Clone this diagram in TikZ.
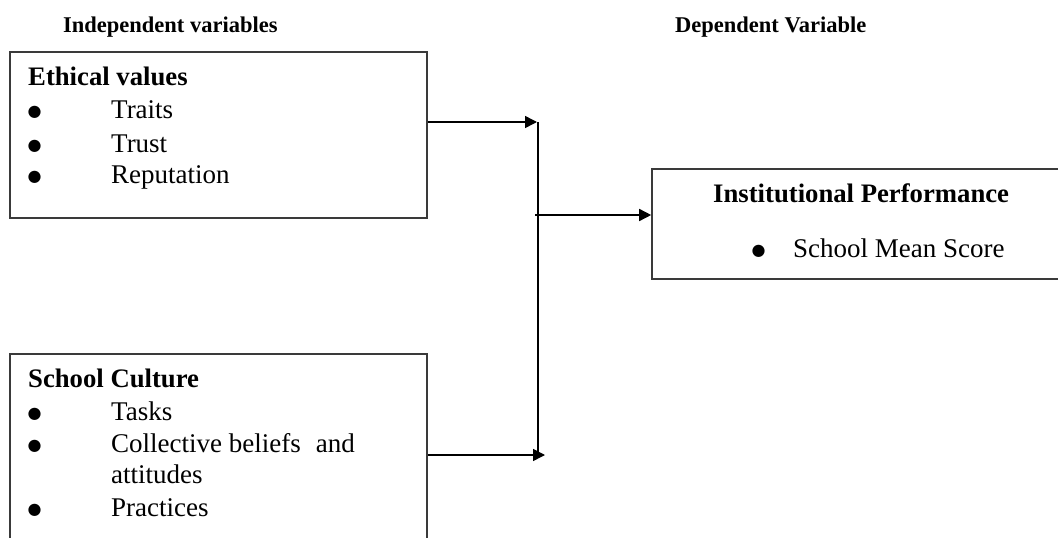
\documentclass[tikz,border=0pt]{standalone}
\usepackage{fontspec}
\setmainfont{Liberation Serif}
\newfontfamily\dejavu{DejaVu Sans}
\usetikzlibrary{arrows.meta}
\definecolor{boxgray}{HTML}{3A3A3A}
\begin{document}
\begin{tikzpicture}[x=1pt,y=-1pt,
  box/.style={draw=boxgray, line width=1.6pt, inner sep=0pt},
  body/.style={font=\fontsize{27}{31}\selectfont, inner sep=0pt, anchor=base west},
  head/.style={font=\fontsize{26.7}{31}\selectfont\bfseries, inner sep=0pt, anchor=base west},
  title/.style={font=\fontsize{22.5}{26}\selectfont\bfseries, inner sep=0pt, anchor=base west},
  bul/.style={font=\dejavu\fontsize{16}{18}\selectfont, inner sep=0pt, anchor=base},
  arr/.style={line width=1.5pt, -{Triangle[length=12pt,width=12pt]}},
  link/.style={line width=1.5pt}]
\clip (0,0) rectangle (1058,538);
\fill[white] (0,0) rectangle (1058,538);

% titles
\node[title] (iv) at (63,32) {Independent variables};
\node[title] (dv) at (675,32) {Dependent Variable};

% boxes
\node[box, minimum width=417pt, minimum height=166pt] (ev) at (218.5,135) {};
\node[box, minimum width=417pt, minimum height=220pt] (sc) at (218.5,464) {};
\node[box, minimum width=420pt, minimum height=110pt] (ip) at (862,224) {};

% Ethical values
\node[head] (evh) at (28,85) {Ethical values};
\node[bul] (b1) at (34.5,116) {●};
\node[body] (i1) at (111,118) {Traits};
\node[bul] (b2) at (34.5,150) {●};
\node[body] (i2) at (111,152) {Trust};
\node[bul] (b3) at (34.5,181) {●};
\node[body] (i3) at (111,183) {Reputation};

% School Culture
\node[head] (sch) at (28,387) {School Culture};
\node[bul] (b4) at (34.5,418) {●};
\node[body] (i4) at (111,420) {Tasks};
\node[bul] (b5) at (34.5,450) {●};
\node[body] (i5) at (111,452) {Collective beliefs\hspace{15pt}and};
\node[body] (i5b) at (111,483) {attitudes};
\node[bul] (b6) at (34.5,514) {●};
\node[body] (i6) at (111,516) {Practices};

% Institutional Performance
\node[head] (iph) at (713,202) {Institutional Performance};
\node[bul] (b7) at (758.5,255) {●};
\node[body] (i7) at (793,257) {School Mean Score};

% connectors
\coordinate (t1) at (537,122);
\coordinate (vtop) at (538,122);
\coordinate (vbot) at (538,455);
\coordinate (mid) at (535,215);
\coordinate (t2) at (545,455);
\draw[arr] (ev.east |- t1) -- (t1);
\draw[link] (vtop) -- (vbot);
\draw[arr] (mid) -- (ip.west |- mid);
\draw[arr] (sc.east |- t2) -- (t2);
\end{tikzpicture}
\end{document}
